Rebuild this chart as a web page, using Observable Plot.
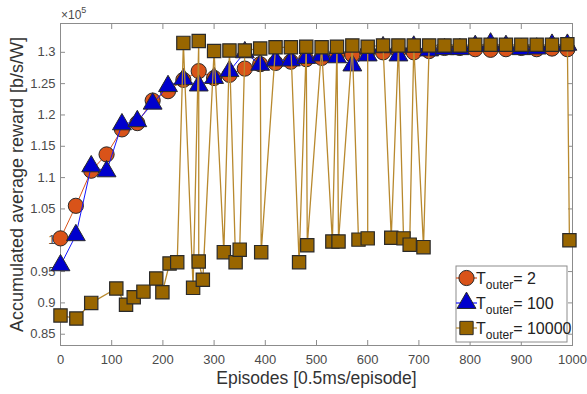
<!DOCTYPE html>
<html><head><meta charset="utf-8">
<script src="https://cdn.jsdelivr.net/npm/d3@7"></script>
<script src="https://cdn.jsdelivr.net/npm/@observablehq/plot@0.6"></script>
<style>
body{margin:0;background:#fff;}
#chart{width:587px;height:394px;}
</style></head><body><div id="chart"></div>
<script>
// ---- data (values in units of 1e5 b/s/W) ----
const epA = [0,30,60,90,120,150,180,210,240,270,300,330,360,390,420,450,480,510,540,570,600,630,660,690,720,750,780,810,840,870,900,930,960,990];
const rewardT2 = [1.003,1.055,1.111,1.137,1.177,1.187,1.223,1.238,1.256,1.270,1.259,1.264,1.274,1.281,1.283,1.285,1.289,1.291,1.297,1.296,1.301,1.300,1.302,1.300,1.302,1.307,1.307,1.305,1.304,1.305,1.307,1.305,1.306,1.305];
const rewardT100 = [0.960,1.008,1.118,1.110,1.185,1.190,1.218,1.246,1.257,1.247,1.259,1.270,1.300,1.280,1.287,1.287,1.291,1.295,1.292,1.279,1.295,1.308,1.295,1.309,1.303,1.305,1.305,1.310,1.314,1.310,1.305,1.306,1.312,1.312];
const epC = [0,31,60,109,128,143,162,187,199,213,228,240,259,270,270,278,300,319,330,342,350,360,390,392,420,450,466,480,482,510,531,540,543,570,582,600,600,630,646,660,670,682,690,709,720,750,780,810,840,870,900,930,960,990,994];
const rewardT10000 = [0.880,0.875,0.900,0.923,0.897,0.909,0.918,0.939,0.917,0.963,0.965,1.315,0.924,1.318,0.966,0.937,1.302,0.981,1.303,0.965,0.985,1.303,1.306,0.981,1.308,1.308,0.965,1.309,0.992,1.308,0.998,1.309,0.998,1.311,1.001,1.003,1.309,1.311,1.004,1.311,1.003,0.993,1.311,0.989,1.311,1.311,1.311,1.312,1.312,1.312,1.312,1.312,1.312,1.313,1.000];
const xTicks = [0,100,200,300,400,500,600,700,800,900,1000];
const yTicks = [0.85,0.9,0.95,1,1.05,1.1,1.15,1.2,1.25,1.3];
const seriesNames = ["2","100","10000"];
const xLabel = "Episodes [0.5ms/episode]";
const yLabel = "Accumulated average reward [b/s/W]";

const dataA = epA.map((e,i)=>({ep:e, v:rewardT2[i]}));
const dataB = epA.map((e,i)=>({ep:e, v:rewardT100[i]}));
const dataC = epC.map((e,i)=>({ep:e, v:rewardT10000[i]}));

const font = "'Liberation Sans', Arial, Helvetica, sans-serif";
const axisColor = "#8c8c8c";
const labelColor = "#4a4a4a";
const cOrange = "#D95319", cBlue = "#0000CD", cBrown = "#996600", cTan = "#B8892E";
const edge = "#2a2a2a";

const plot = Plot.plot({
  width: 587, height: 394,
  marginLeft: 60, marginRight: 15, marginTop: 23, marginBottom: 49,
  style: {fontFamily: font, fontSize: "13px", background: "white", color: labelColor},
  x: {domain: [0, 1000]},
  y: {domain: [0.832, 1.346]},
  marks: [
    Plot.axisX(xTicks, {anchor: "bottom", tickSize: -5, tickPadding: 14, stroke: axisColor, fill: labelColor, label: null, tickFormat: d3.format("d")}),
    Plot.axisX(xTicks, {anchor: "top", tickSize: -5, stroke: axisColor, fill: "none", label: null}),
    Plot.axisY(yTicks, {anchor: "left", tickSize: -5, tickPadding: 10, stroke: axisColor, fill: labelColor, label: null, tickFormat: d3.format("~g")}),
    Plot.axisY(yTicks, {anchor: "right", tickSize: -5, stroke: axisColor, fill: "none", label: null}),
    Plot.frame({stroke: axisColor}),
    Plot.line(dataA, {x: "ep", y: "v", stroke: cOrange, strokeWidth: 1}),
    Plot.dot(dataA, {x: "ep", y: "v", symbol: "circle", r: 7.6, fill: cOrange, stroke: edge, strokeWidth: 1}),
    Plot.line(dataB, {x: "ep", y: "v", stroke: "#1515ff", strokeWidth: 1}),
    Plot.dot(dataB, {x: "ep", y: "v", symbol: "triangle", r: 7, fill: cBlue, stroke: edge, strokeWidth: 1}),
    Plot.line(dataC, {x: "ep", y: "v", stroke: cTan, strokeWidth: 1.3}),
    Plot.dot(dataC, {x: "ep", y: "v", symbol: "square", r: 7.5, fill: cBrown, stroke: edge, strokeWidth: 1.2}),
    Plot.text([xLabel], {frameAnchor: "bottom", dy: 38, fontSize: 17.5, fill: "#333", text: d => d}),
    Plot.text([yLabel], {frameAnchor: "left", textAnchor: "middle", dx: -43, rotate: -90, fontSize: 18, fill: "#333", text: d => d})
  ]
});
document.getElementById("chart").appendChild(plot);

// ---- exponent label and legend ----
const svg = d3.select(plot);
const exp = svg.append("text").attr("x", 61).attr("y", 19).attr("text-anchor", "start")
  .attr("font-family", font).attr("font-size", 12).attr("fill", labelColor);
exp.append("tspan").text("×10");
exp.append("tspan").attr("dy", -6).attr("font-size", 9).text("5");

const lg = svg.append("g").attr("transform", "translate(456,266)");
lg.append("rect").attr("width", 111).attr("height", 76).attr("fill", "white").attr("stroke", axisColor).attr("stroke-width", 1);
const items = [
  {name: seriesNames[0], sym: d3.symbolCircle, r: 7.6, fill: cOrange, line: cOrange},
  {name: seriesNames[1], sym: d3.symbolTriangle, r: 7, fill: cBlue, line: "#1515ff"},
  {name: seriesNames[2], sym: d3.symbolSquare, r: 7.5, fill: cBrown, line: cTan}
];
items.forEach((it, i) => {
  const g = lg.append("g").attr("transform", `translate(0,${12 + i*25})`);
  g.append("line").attr("x1", 0).attr("x2", 21).attr("y1", 0).attr("y2", 0).attr("stroke", it.line).attr("stroke-width", 1.2);
  g.append("path").attr("d", d3.symbol(it.sym, Math.PI * it.r * it.r)()).attr("transform", "translate(10.5,0)")
    .attr("fill", it.fill).attr("stroke", edge).attr("stroke-width", 1);
  const t = g.append("text").attr("x", 20).attr("y", 5.5).attr("text-anchor", "start")
    .attr("font-family", font).attr("font-size", 16).attr("fill", "#222");
  t.append("tspan").text("T");
  t.append("tspan").attr("font-size", 12).attr("dy", 5).text("outer");
  t.append("tspan").attr("dy", -5).text("= " + it.name);
});
</script>
</body></html>
